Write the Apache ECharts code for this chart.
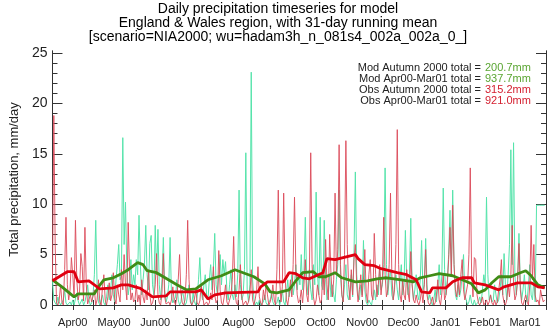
<!DOCTYPE html>
<html><head><meta charset="utf-8">
<script src="https://cdn.jsdelivr.net/npm/echarts@6/dist/echarts.min.js"></script>
<style>html,body{margin:0;padding:0;background:#fff}#c{width:550px;height:330px}</style>
</head><body><div id="c"></div>
<script>
// Month ticks (day index from 1 Apr 2000)
const monthStarts = [0,30,61,91,122,153,183,214,244,275,306,334,365];
const monthLabels = ['Apr00','May00','Jun00','Jul00','Aug00','Sep00','Oct00','Nov00','Dec00','Jan01','Feb01','Mar01'];
const yTickLabels = [0,5,10,15,20,25];

// Observed daily precipitation (mm/day), Apr00..Mar01
const obsDaily = [
 2.5,18.8,6.0,0.2,0.0,0.5,2.0,0.3,0.0,3.5,8.7,2.0,0.5,1.5,4.7,3.0,0.8,8.4,2.5,0.5,1.2,5.1,3.8,0.4,7.7,2.0,0.1,0.0,1.0,0.3,
 0.2,1.5,0.0,0.5,2.5,0.3,0.0,1.8,3.0,0.5,0.0,0.8,2.2,0.4,1.0,3.2,0.6,0.1,2.0,1.0,0.3,3.5,1.5,5.0,2.0,0.5,8.2,3.5,0.5,1.2,0.3,
 0.5,2.0,0.3,1.0,0.0,2.5,0.8,0.2,1.5,0.5,3.5,1.0,0.0,0.2,0.8,2.0,5.1,1.0,0.2,0.0,1.2,5.1,0.8,0.1,0.0,0.3,0.0,0.5,1.8,0.4,
 0.0,0.8,2.5,5.0,1.2,0.2,0.0,0.5,3.0,8.4,2.5,0.3,0.0,0.0,0.6,1.5,0.2,0.0,0.4,2.0,1.0,0.0,0.0,0.3,0.0,0.2,1.2,0.5,3.8,1.0,0.2,
 0.5,5.4,1.5,0.2,0.0,0.8,2.0,0.3,0.0,0.0,1.0,2.5,6.8,1.2,0.2,0.0,1.5,4.0,0.8,0.0,0.0,0.4,0.0,0.3,1.0,3.5,0.5,0.0,0.6,1.5,3.8,
 0.8,0.2,0.0,1.5,0.5,2.2,1.0,0.0,0.3,0.8,2.0,0.5,0.0,3.5,11.4,2.5,0.3,1.8,11.1,3.0,0.5,0.0,1.0,2.5,0.8,4.0,10.7,3.5,1.0,0.2,
 0.5,1.5,0.2,2.0,4.5,1.0,0.3,3.0,15.1,4.0,0.8,0.0,0.5,2.0,1.0,0.2,0.5,3.5,1.0,6.5,2.0,0.5,7.0,3.0,0.8,2.5,11.1,3.0,5.5,15.9,4.0,
 1.0,0.3,5.0,16.3,6.0,2.0,0.5,3.5,1.0,4.5,6.0,2.0,0.3,1.5,3.0,0.8,2.5,5.5,1.2,0.2,3.0,4.5,1.0,0.5,7.1,3.0,0.8,2.0,4.0,1.0,
 2.5,8.7,3.0,0.8,1.5,4.0,11.1,3.0,0.5,1.5,6.0,17.4,4.0,1.0,0.3,2.5,1.0,0.5,3.5,1.2,0.3,5.3,2.0,0.5,0.2,1.0,0.3,0.0,0.5,1.5,0.2,
 2.0,5.5,1.0,0.2,0.0,0.3,0.8,0.0,0.2,1.0,2.5,0.5,0.0,1.2,3.0,0.5,1.0,2.0,4.5,7.7,3.0,9.9,4.0,1.5,0.8,2.5,1.0,3.0,4.5,1.5,0.5,
 0.5,2.0,5.0,13.6,3.0,0.8,4.7,4.5,1.0,0.2,0.0,0.3,0.8,0.0,0.2,0.5,0.0,0.3,1.0,0.2,0.0,0.5,0.0,0.3,1.5,2.5,4.5,1.0,
 0.2,0.0,0.5,2.0,0.8,3.0,7.9,2.0,0.5,1.0,2.5,6.1,1.5,0.2,0.0,0.5,1.0,0.3,0.0,2.0,7.9,2.5,6.0,1.0,0.3,0.5,0.0,1.5,0.8,0.3,0.5
];

// Model daily precipitation (mm/day), Apr00..Mar01
const modDaily = [
 2.5,0.5,0.2,0.0,0.8,0.3,0.0,0.0,0.5,1.5,0.2,0.0,0.0,0.3,0.0,0.5,0.0,0.0,1.2,0.4,0.0,0.0,0.6,0.0,0.3,1.0,2.0,0.5,0.0,0.2,
 1.0,3.0,8.4,2.0,0.3,0.0,0.5,1.0,0.2,0.0,0.8,2.0,0.5,1.5,3.0,1.0,0.3,2.5,4.0,6.0,2.5,3.0,16.6,6.0,10.2,3.5,1.0,2.0,4.5,1.5,3.0,
 2.0,4.5,3.0,8.9,4.0,1.0,2.5,4.0,7.9,3.0,1.5,6.1,6.9,2.0,1.0,7.9,3.0,7.5,2.0,0.5,2.5,6.7,1.5,0.3,0.8,2.0,6.7,1.0,0.2,0.5,
 0.8,2.5,0.5,0.0,0.3,1.5,0.8,0.0,0.2,1.0,2.0,0.5,0.0,1.2,0.3,0.0,0.8,2.5,4.7,1.5,0.5,2.0,3.0,1.0,0.5,2.5,4.0,1.5,3.5,7.1,2.0,
 1.0,3.0,5.0,2.0,4.5,3.0,4.3,1.5,0.5,2.0,3.5,1.0,0.5,2.0,0.8,3.0,11.4,2.0,0.5,1.0,3.5,15.1,1.5,0.3,2.0,23.1,2.5,0.5,0.0,0.3,0.0,
 0.5,0.0,0.0,0.3,1.0,0.2,0.0,0.0,0.5,1.2,0.3,0.0,0.0,0.2,0.8,0.0,0.5,1.5,0.3,0.0,1.0,2.5,0.8,1.5,3.0,1.0,2.0,4.0,1.5,3.0,
 2.0,5.0,1.5,3.0,8.7,2.5,1.0,3.5,1.5,0.5,4.0,2.0,11.2,3.0,1.0,8.7,2.0,1.5,8.4,2.5,0.5,1.0,3.0,0.8,2.0,1.0,0.3,2.5,4.0,11.4,3.0,
 1.0,0.3,2.0,4.0,1.0,0.5,1.5,3.0,0.8,5.0,13.2,3.0,1.0,0.5,2.0,1.0,6.4,1.5,0.3,0.0,0.5,0.2,0.0,0.8,1.5,0.5,2.0,1.0,3.5,1.5,
 2.0,4.0,13.6,4.0,1.0,2.5,3.5,1.0,0.5,2.0,3.0,1.5,0.5,2.5,4.0,1.0,2.0,7.4,2.5,1.0,3.0,8.6,2.0,0.5,1.5,3.0,1.0,0.5,2.5,6.4,1.5,
 2.0,6.6,2.0,0.5,1.0,0.3,0.0,0.5,1.5,0.3,2.0,4.0,1.0,3.0,11.6,3.5,1.0,2.5,5.0,9.4,3.0,11.4,4.0,1.0,0.5,2.0,0.8,1.5,3.0,5.0,1.0,
 0.5,0.0,0.3,1.0,0.2,0.0,0.5,0.0,0.0,0.3,0.8,0.2,1.5,3.0,2.0,10.7,3.0,0.5,1.0,0.3,0.5,2.0,1.0,0.2,0.5,1.5,3.0,1.0,
 5.1,2.0,0.5,3.0,6.0,15.4,4.0,16.1,3.0,1.0,2.5,7.1,2.0,0.5,1.5,3.0,1.0,0.3,2.0,4.0,1.0,0.5,2.5,0.3,9.9,9.9,9.9,9.9,9.9,9.9,9.9
];

// 31-day running means (day index, mm/day)
const obsMeanDays = [0,11,16,19,27,35,45,51,56,65,74,84,87,106,110,115,120,128,152,154,159,171,175,180,185,190,200,203,209,224,226,231,238,243,255,262,269,273,279,281,291,296,303,310,312,320,330,334,344,354,359,364];
const obsMeanVals = [2.4,3.3,3.3,2.3,2.4,1.6,1.7,2.0,2.0,1.65,0.8,0.9,1.3,1.3,1.5,0.6,1.0,1.2,1.3,1.8,2.3,2.3,3.2,3.1,2.7,2.6,3.2,4.6,4.5,5.0,4.6,4.0,3.9,3.6,3.2,3.0,2.5,1.3,1.2,1.7,1.7,2.3,2.7,2.7,2.2,2.0,1.5,1.8,2.2,2.2,1.8,1.7];
const modMeanDays = [0,7,16,19,31,34,38,45,51,56,63,67,70,77,82,92,99,106,115,125,135,139,149,157,161,166,175,180,185,193,197,202,209,214,224,233,240,247,258,267,272,279,286,296,303,310,315,320,325,330,339,346,350,354,359,364];
const modMeanVals = [2.5,1.8,0.8,1.1,1.1,1.8,2.5,2.7,3.1,3.5,4.2,4.0,3.4,3.2,2.8,2.0,1.5,1.6,2.5,2.9,3.5,3.3,2.8,2.1,1.3,1.2,1.5,2.4,3.2,3.3,2.8,2.8,3.2,2.7,2.3,2.4,2.6,2.7,2.5,2.3,2.7,2.9,3.1,2.9,2.5,2.1,1.2,1.5,2.2,2.8,2.8,3.2,3.4,2.9,2.0,1.7];

const summaryLabels = ['Mod Autumn 2000 total =','Mod Apr00-Mar01 total =','Obs Autumn 2000 total =','Obs Apr00-Mar01 total ='];
const summaryValues = ['200.7mm','937.7mm','315.2mm','921.0mm'];

const FONT = '"Liberation Sans", Arial, sans-serif';
const monthMids = monthLabels.map((_, i) => (monthStarts[i] + monthStarts[i + 1]) / 2);
const xTicks = [];
monthStarts.forEach((s, i) => { xTicks.push(s); if (i < monthMids.length) xTicks.push(monthMids[i]); });
const yMinor = []; for (let v = 0; v <= 25; v++) yMinor.push(v);

const chart = echarts.init(document.getElementById('c'), null, {renderer: 'canvas'});
const axisLine = {show: true, lineStyle: {color: '#333', width: 1}};
function xAx(pos, showLabels) {
  return {
    type: 'value', position: pos, min: 0, max: 365,
    axisLine: axisLine,
    splitLine: {show: false},
    axisTick: {show: true, inside: true, length: 5, customValues: xTicks, lineStyle: {color: '#333'}},
    axisLabel: {show: showLabels, customValues: monthMids, color: '#222', fontSize: 11, fontFamily: FONT, margin: 9,
      formatter: v => { const k = monthMids.findIndex(m => Math.abs(m - v) < 0.01); return k >= 0 ? monthLabels[k] : ''; }}
  };
}
function yAx(pos, ticks, len, labels, name) {
  return {
    type: 'value', position: pos, min: -0.3, max: 25.2,
    axisLine: axisLine, splitLine: {show: false},
    axisTick: {show: true, inside: true, length: len, customValues: ticks, lineStyle: {color: '#333'}},
    axisLabel: {show: labels, customValues: yTickLabels, color: '#222', fontSize: 14, fontFamily: FONT, margin: 5},
    name: name || '', nameLocation: 'middle', nameGap: 22, nameRotate: 90,
    nameTextStyle: {fontSize: 13, fontFamily: FONT, color: '#222'}
  };
}
const titleLines = ['Daily precipitation timeseries for model','England & Wales region, with 31-day running mean','[scenario=NIA2000; wu=hadam3h_n_081s4_002a_002a_0_]'];
const graphics = [];
titleLines.forEach((t, i) => graphics.push({type: 'text', x: 278, y: 9.5 + i * 13.7, style: {text: t, font: '14px ' + FONT, fill: '#000', align: 'center', verticalAlign: 'middle'}}));
const valColors = ['#5aa532','#5aa532','#d42030','#d42030'];
summaryLabels.forEach((t, i) => {
  graphics.push({type: 'text', x: 481, y: 68 + i * 11, style: {text: t, font: '11px ' + FONT, fill: '#222', align: 'right', verticalAlign: 'middle'}});
  graphics.push({type: 'text', x: 485, y: 68 + i * 11, style: {text: summaryValues[i], font: '11px ' + FONT, fill: valColors[i], align: 'left', verticalAlign: 'middle'}});
});

chart.setOption({
  animation: false,
  backgroundColor: '#fff',
  grid: {left: 40, right: 4, top: 51, bottom: 22, containLabel: false},
  xAxis: [xAx('bottom', true), xAx('top', false)],
  yAxis: [
    yAx('left', yMinor, 5, true, 'Total precipitation, mm/day'),
    yAx('left', yTickLabels, 10, false),
    yAx('right', yMinor, 5, false),
    yAx('right', yTickLabels, 10, false)
  ],
  graphic: graphics,
  series: [
    {type: 'line', name: 'Model', data: modDaily.map((v, i) => [i, v]), showSymbol: false, symbol: 'none',
      lineStyle: {color: '#55e4ab', width: 1}, z: 2, clip: true},
    {type: 'line', name: 'Obs', data: obsDaily.map((v, i) => [i, v]), showSymbol: false, symbol: 'none',
      lineStyle: {color: '#dc4a5a', width: 1, opacity: 0.9}, z: 3, clip: true},
    {type: 'line', name: 'Model mean', data: modMeanDays.map((d, i) => [d, modMeanVals[i]]), showSymbol: false, symbol: 'none',
      lineStyle: {color: '#3f8c16', width: 2.8}, z: 4, clip: true},
    {type: 'line', name: 'Obs mean', data: obsMeanDays.map((d, i) => [d, obsMeanVals[i]]), showSymbol: false, symbol: 'none',
      lineStyle: {color: '#e00010', width: 2.8}, z: 5, clip: true}
  ]
});
</script></body></html>
